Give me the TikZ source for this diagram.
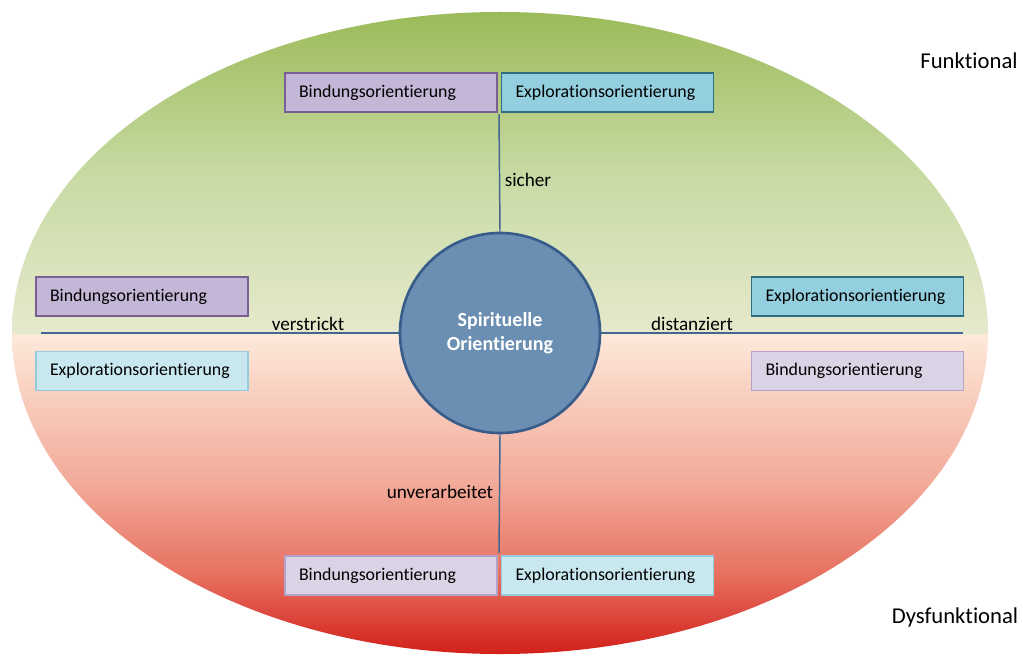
\documentclass[tikz,border=0pt]{standalone}
\usepackage{fontspec}
\setmainfont[Ligatures=NoCommon]{Carlito}
\usetikzlibrary{positioning}
\definecolor{gtop}{HTML}{9BBB59}
\definecolor{gmid}{HTML}{C8DBA5}
\definecolor{glow}{HTML}{E6E9CC}
\definecolor{pk}{HTML}{FDE9DA}
\definecolor{sal}{HTML}{F2A897}
\definecolor{rmid}{HTML}{E76E5E}
\definecolor{rbot}{HTML}{D2201A}
\definecolor{linec}{HTML}{44658F}
\definecolor{bdark}{HTML}{C4B6D6}
\definecolor{bdarkd}{HTML}{7A5F95}
\definecolor{edark}{HTML}{93CFDE}
\definecolor{edarkd}{HTML}{2F6E80}
\definecolor{blight}{HTML}{DAD3E6}
\definecolor{blightd}{HTML}{B3A3CB}
\definecolor{elight}{HTML}{C8E7EF}
\definecolor{elightd}{HTML}{93CDDD}
\definecolor{circf}{HTML}{6B8FB2}
\definecolor{circd}{HTML}{385D8A}
\pgfdeclareverticalshading{ellshade}{100bp}{
  color(0bp)=(rbot); color(25bp)=(rbot); color(31bp)=(rmid);
  color(38bp)=(sal); color(49.9bp)=(pk); color(50bp)=(glow);
  color(62bp)=(gmid); color(75bp)=(gtop); color(100bp)=(gtop)}
\tikzset{
  box/.style={draw, line width=1.1pt, minimum height=29pt, text width=138pt,
    inner xsep=10.5pt, align=left, font=\fontsize{13.4}{15}\selectfont, text=black},
  bd/.style={box, fill=bdark, draw=bdarkd},
  ed/.style={box, fill=edark, draw=edarkd},
  bl/.style={box, fill=blight, draw=blightd},
  el/.style={box, fill=elight, draw=elightd},
  conn/.style={draw=linec, line width=1.1pt},
  lab/.style={font=\fontsize{14.4}{16}\selectfont, text=black, inner sep=0pt},
  side/.style={font=\fontsize{17}{19}\selectfont, text=black, inner sep=0pt}
}
\begin{document}
\begin{tikzpicture}[x=0.75pt,y=-0.75pt]
\useasboundingbox (0,0) rectangle (1023,659);
\fill[white] (0,0) rectangle (1023,659);
\begin{scope}
\clip (0,0) rectangle (1023,659);
\shade[shading=ellshade] (500,333) ellipse [x radius=488, y radius=321];
\end{scope}

\node[circle, fill=circf, draw=circd, line width=2pt, minimum size=150pt,
  text=white, font=\bfseries\fontsize{15}{18}\selectfont, align=center]
  (c) at (500,333) {Spirituelle\\Orientierung};

\node[bd] (tb) at (391,92.5) {Bindungsorientierung};
\node[ed] (te) at (607.5,92.5) {Explorationsorientierung};
\node[bd] (lb) at (142,296.5) {Bindungsorientierung};
\node[el] (le) at (142,371) {Explorationsorientierung};
\node[ed] (re) at (857.5,296.5) {Explorationsorientierung};
\node[bl] (rb) at (857.5,371) {Bindungsorientierung};
\node[bl] (bb) at (391,575.5) {Bindungsorientierung};
\node[el] (be) at (607.5,575.5) {Explorationsorientierung};

\coordinate (ttop) at (499,114);
\coordinate (bbot) at (499,553);
\coordinate (lend) at (41,333);
\coordinate (rend) at (963,333);

\draw[conn] (ttop) -- (c.north);
\draw[conn] (c.south) -- (bbot);
\draw[conn] (lend) -- (c.west);
\draw[conn] (c.east) -- (rend);

\node[lab] (l1) at (528,180) {sicher};
\node[lab] (l2) at (308,324) {verstrickt};
\node[lab] (l3) at (692,324) {distanziert};
\node[lab] (l4) at (440,492) {unverarbeitet};
\node[side] (f1) at (969,61) {Funktional};
\node[side] (f2) at (955,617) {Dysfunktional};
\end{tikzpicture}
\end{document}
